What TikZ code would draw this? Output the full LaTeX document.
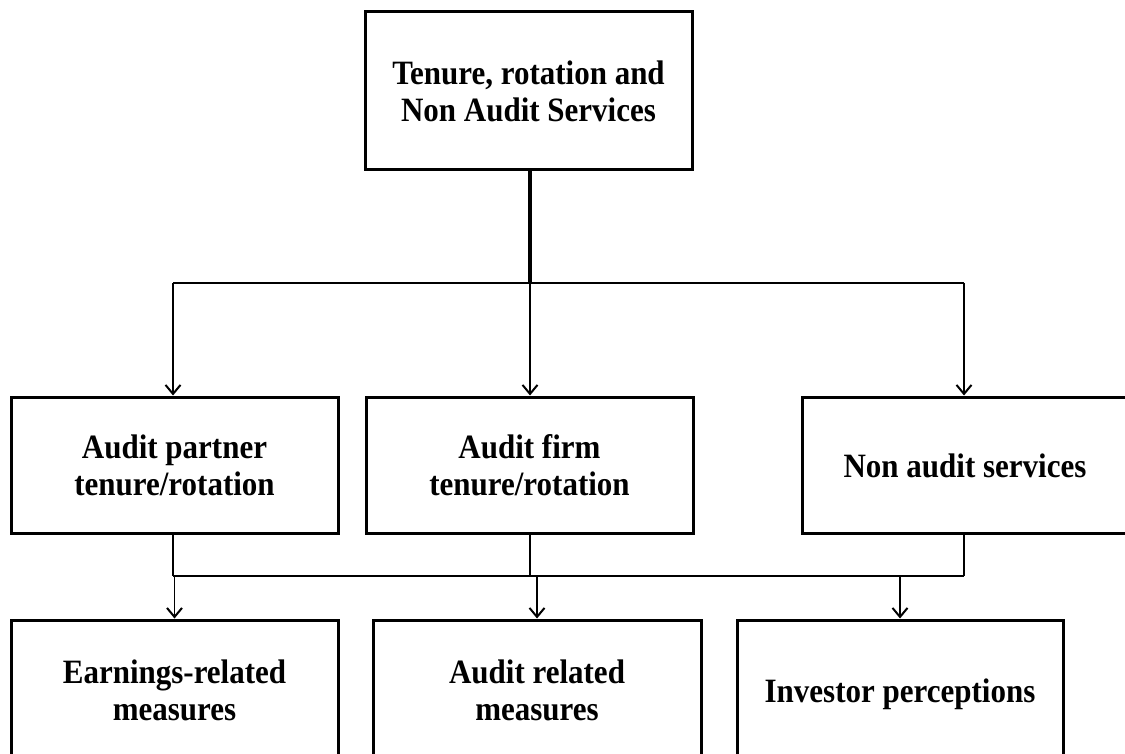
\documentclass[tikz,border=0pt]{standalone}
\usepackage{fontspec}
\usepackage{graphicx}
\setmainfont{Liberation Serif}
\usetikzlibrary{arrows.meta}
\newcommand{\boxtext}[1]{\raisebox{-5pt}[\height][\depth]{\scalebox{1}[1.1]{\begin{tabular}{@{}c@{}}#1\end{tabular}}}}
\begin{document}
\begin{tikzpicture}[x=1pt,y=-1pt,
  box/.style={draw, line width=3pt, inner sep=0pt, align=center,
    font=\fontsize{31}{33.4}\selectfont\bfseries},
  conn/.style={line width=1.5pt},
  arr/.style={line width=1.5pt, -{Straight Barb[length=9pt,width=15pt,line width=2pt]}}]
\useasboundingbox (0,0) rectangle (1125,754);
\clip (0,0) rectangle (1125,754);
% top
\node[box, minimum width=327pt, minimum height=158pt] (top) at (528.5,91) {\boxtext{Tenure, rotation and\\Non Audit Services}};
% middle row
\node[box, minimum width=327pt, minimum height=136pt] (A) at (174.5,465) {\boxtext{Audit partner\\tenure/rotation}};
\node[box, minimum width=327pt, minimum height=136pt] (B) at (529.5,465) {\boxtext{Audit firm\\tenure/rotation}};
\node[box, minimum width=326pt, minimum height=136pt] (C) at (965,465) {\boxtext{Non audit services}};
% bottom row
\node[box, minimum width=327pt, minimum height=140pt] (D) at (174.5,690) {\boxtext{Earnings-related\\measures}};
\node[box, minimum width=328pt, minimum height=140pt] (E) at (537,690) {\boxtext{Audit related\\measures}};
\node[box, minimum width=326pt, minimum height=140pt] (F) at (900,690) {\boxtext{Investor perceptions}};
% bus coordinates
\coordinate (h1) at (530,283);
\coordinate (h1a) at (173,283);
\coordinate (h1c) at (964,283);
\coordinate (h2a) at (173,576);
\coordinate (h2b) at (530,576);
\coordinate (h2c) at (964,576);
% top connector
\draw[line width=4pt] (top.south -| h1) -- (h1);
\draw[conn] (h1a) -- (h1c);
\draw[arr] (h1a) -- (h1a |- A.north);
\draw[arr] (h1) -- (h1 |- B.north);
\draw[arr] (h1c) -- (h1c |- C.north);
% lower connectors
\draw[conn] (A.south -| h2a) -- (h2a);
\draw[conn] (B.south -| h2b) -- (h2b);
\draw[conn] (C.south -| h2c) -- (h2c);
\draw[line width=2pt] (h2a) -- (h2c);
\draw[arr] (D.north |- h2a) -- (D.north);
\draw[arr] (E.north |- h2a) -- (E.north);
\draw[arr] (F.north |- h2a) -- (F.north);
\end{tikzpicture}
\end{document}
